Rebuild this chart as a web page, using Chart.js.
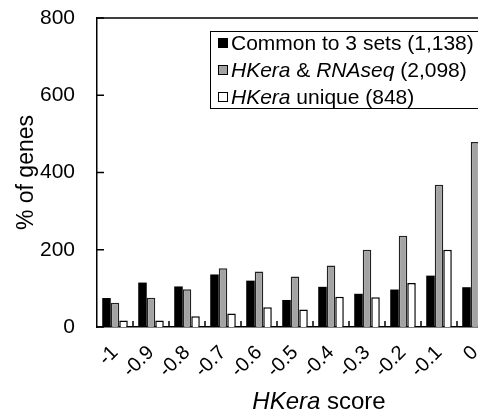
<!DOCTYPE html>
<html>
<head>
<meta charset="utf-8">
<script src="https://cdn.jsdelivr.net/npm/chart.js@4.4.1/dist/chart.umd.min.js"></script>
<style>
  html, body { margin: 0; padding: 0; background: #fff; overflow: hidden; }
  #wrap { width: 500px; height: 416px; }
</style>
</head>
<body>
<div id="wrap"><canvas id="grafico" width="500" height="416"></canvas></div>
<script>
// valores
const categorias = ['-1', '-0.9', '-0.8', '-0.7', '-0.6', '-0.5', '-0.4', '-0.3', '-0.2', '-0.1', '0'];
const serieComun = [75, 115, 105, 136, 120, 70, 104, 86, 97, 133, 103];
const serieRnaseq = [63, 76, 98, 152, 144, 131, 159, 200, 236, 368, 479];
const serieUnica = [17, 17, 28, 35, 51, 45, 78, 77, 114, 200, 160];
const ticksY = [0, 200, 400, 600, 800];

const FUENTE = "'Liberation Sans', Arial, sans-serif";

// partes de texto: [texto, cursiva]
const etiquetasLeyenda = [
    [['Common to 3 sets (1,138)', false]],
    [['HKera', true], [' & ', false], ['RNAseq', true], [' (2,098)', false]],
    [['HKera', true], [' unique (848)', false]]
];

function textoMixto(ctx, partes, x, y, size, centrado) {
    let total = 0;
    partes.forEach(([t, it]) => {
        ctx.font = (it ? 'italic ' : '') + size + 'px ' + FUENTE;
        total += ctx.measureText(t).width;
    });
    let cx = centrado ? x - total / 2 : x;
    partes.forEach(([t, it]) => {
        ctx.font = (it ? 'italic ' : '') + size + 'px ' + FUENTE;
        ctx.fillText(t, cx, y);
        cx += ctx.measureText(t).width;
    });
}

const marcoYLeyenda = {
    id: 'marcoYLeyenda',
    afterDraw(chart) {
        const ctx = chart.ctx;
        const area = chart.chartArea;
        const x = chart.scales.x;
        const y = chart.scales.y;
        ctx.save();
        ctx.strokeStyle = '#000';
        ctx.lineWidth = 1.5;
        // linea superior del marco
        ctx.beginPath();
        ctx.moveTo(area.left, area.top);
        ctx.lineTo(area.right, area.top);
        ctx.lineTo(area.right, area.bottom);
        ctx.stroke();
        // marcas hacia dentro en el eje y
        ticksY.forEach(v => {
            const py = y.getPixelForValue(v);
            ctx.beginPath();
            ctx.moveTo(area.left, py);
            ctx.lineTo(area.left + 7, py);
            ctx.stroke();
        });
        // marcas hacia dentro en el eje x, entre categorias
        const paso = (x.right - x.left) / categorias.length;
        for (let i = 1; i < categorias.length; i++) {
            const px = x.left + i * paso;
            ctx.beginPath();
            ctx.moveTo(px, area.bottom);
            ctx.lineTo(px, area.bottom - 6);
            ctx.stroke();
        }

        // leyenda
        const lx = 210, ly = 31, lw = 272, lh = 77;
        ctx.fillStyle = '#fff';
        ctx.fillRect(lx, ly, lw, lh);
        ctx.lineWidth = 1;
        ctx.strokeRect(lx + 0.5, ly + 0.5, lw, lh);
        ctx.textBaseline = 'middle';
        chart.data.datasets.forEach((ds, i) => {
            const cy = 43 + i * 27;
            ctx.fillStyle = ds.backgroundColor;
            ctx.fillRect(218, cy - 5, 10, 10);
            ctx.strokeStyle = '#000';
            ctx.lineWidth = 1;
            ctx.strokeRect(218.5, cy - 4.5, 9, 9);
            ctx.fillStyle = '#000';
            textoMixto(ctx, etiquetasLeyenda[i], 231, cy + 1, 21, false);
        });

        // titulo del eje x
        ctx.fillStyle = '#000';
        textoMixto(ctx, [['HKera', true], [' score', false]], 319, 402, 24, true);
        ctx.restore();
    }
};

new Chart(document.getElementById('grafico').getContext('2d'), {
    type: 'bar',
    data: {
        labels: categorias,
        datasets: [
            {
                label: 'Common to 3 sets (1,138)',
                data: serieComun,
                backgroundColor: '#000000',
                borderColor: '#000000',
                borderWidth: 0
            },
            {
                label: 'HKera & RNAseq (2,098)',
                data: serieRnaseq,
                backgroundColor: '#a3a3a3',
                borderColor: '#222222',
                borderWidth: 1.5
            },
            {
                label: 'HKera unique (848)',
                data: serieUnica,
                backgroundColor: '#ffffff',
                borderColor: '#000000',
                borderWidth: 1.5
            }
        ]
    },
    options: {
        responsive: false,
        animation: false,
        datasets: {
            bar: { barPercentage: 1, categoryPercentage: 0.71 }
        },
        layout: { padding: { top: 18, right: 7, left: 0, bottom: 0 } },
        plugins: {
            legend: { display: false },
            tooltip: { enabled: false }
        },
        scales: {
            x: {
                grid: { display: false, drawTicks: false },
                border: { display: true, color: '#000', width: 1.5 },
                ticks: {
                    color: '#000',
                    font: { family: FUENTE, size: 20 },
                    minRotation: 45,
                    maxRotation: 45,
                    autoSkip: false,
                    padding: 14
                },
                afterFit(scale) {
                    scale.height = 89;
                    scale.paddingLeft = 0;
                    scale.paddingRight = 0;
                }
            },
            y: {
                min: 0,
                max: 800,
                grid: { display: false, drawTicks: false },
                border: { display: true, color: '#000', width: 1.5 },
                afterBuildTicks(scale) { scale.ticks = ticksY.map(v => ({ value: v })); },
                ticks: {
                    color: '#000',
                    font: { family: FUENTE, size: 21 },
                    padding: 22
                },
                title: {
                    display: true,
                    text: '% of genes',
                    color: '#000',
                    font: { family: FUENTE, size: 23 },
                    padding: { top: 13, bottom: 0 }
                },
                afterFit(scale) {
                    scale.width = 97;
                    scale.paddingTop = 0;
                    scale.paddingBottom = 0;
                }
            }
        }
    },
    plugins: [marcoYLeyenda]
});
</script>
</body>
</html>
